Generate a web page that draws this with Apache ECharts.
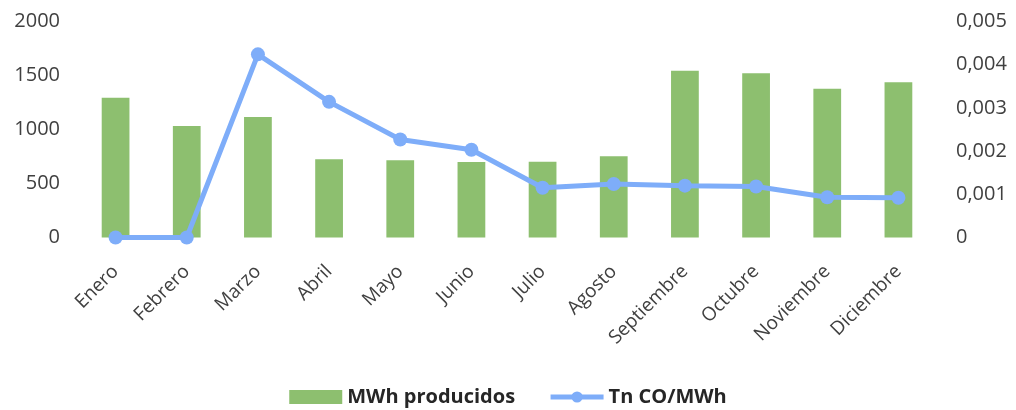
<!DOCTYPE html>
<html>
<head>
<meta charset="utf-8">
<script src="https://cdn.jsdelivr.net/npm/echarts@6/dist/echarts.min.js"></script>
<style>
  html, body { margin: 0; padding: 0; background: #ffffff; }
  #chart { width: 1016px; height: 410px; }
</style>
</head>
<body>
<div id="chart"></div>
<script>
// Monthly production and emission intensity
const months = ['Enero', 'Febrero', 'Marzo', 'Abril', 'Mayo', 'Junio', 'Julio', 'Agosto', 'Septiembre', 'Octubre', 'Noviembre', 'Diciembre'];
const mwhProducidos = [1295, 1032, 1116, 724, 715, 700, 702, 752, 1545, 1520, 1378, 1437];
const tnCoPorMwh = [0, 0, 0.00424, 0.00314, 0.00227, 0.00203, 0.00115, 0.00124, 0.00120, 0.00118, 0.00093, 0.00092];
const leftTicks = ['0', '500', '1000', '1500', '2000'];
const rightTicks = ['0', '0,001', '0,002', '0,003', '0,004', '0,005'];

const textColor = '#404040';
const fontFamily = '"Open Sans", "Noto Sans", sans-serif';
const lineColor = '#7EADF9';

const chart = echarts.init(document.getElementById('chart'), null, { renderer: 'canvas' });
chart.setOption({
  animation: false,
  textStyle: { fontFamily: fontFamily },
  grid: { left: 80, right: 82, top: 21.5, bottom: 172.5, containLabel: false },
  legend: {
    top: 382,
    left: 'center',
    itemGap: 33,
    itemWidth: 53,
    itemHeight: 14,
    textStyle: { color: '#262626', fontSize: 20, fontWeight: 'bold', fontFamily: fontFamily, padding: [0, 0, 0, 0] },
    data: [
      { name: 'MWh producidos', icon: 'rect' },
      { name: 'Tn CO/MWh', lineStyle: { width: 5, color: lineColor } }
    ]
  },
  xAxis: {
    type: 'category',
    data: months,
    axisLine: { show: false },
    axisTick: { show: false },
    axisLabel: { rotate: 45, interval: 0, fontSize: 19, color: textColor, margin: 31 }
  },
  yAxis: [
    {
      type: 'value',
      min: 0, max: 2000, interval: 500,
      splitLine: { show: false },
      axisLine: { show: false },
      axisTick: { show: false },
      axisLabel: {
        fontSize: 20, color: textColor, margin: 20,
        formatter: (v) => leftTicks[Math.round(v / 500)]
      }
    },
    {
      type: 'value',
      min: 0, max: 0.005, interval: 0.001,
      splitLine: { show: false },
      axisLine: { show: false },
      axisTick: { show: false },
      axisLabel: {
        fontSize: 20, color: textColor, margin: 22,
        formatter: (v) => rightTicks[Math.round(v / 0.001)]
      }
    }
  ],
  series: [
    {
      name: 'MWh producidos',
      type: 'bar',
      yAxisIndex: 0,
      data: mwhProducidos,
      barWidth: '39%',
      itemStyle: { color: '#8DBF6F' }
    },
    {
      name: 'Tn CO/MWh',
      type: 'line',
      yAxisIndex: 1,
      data: tnCoPorMwh,
      symbol: 'circle',
      symbolSize: 14,
      lineStyle: { color: lineColor, width: 5 },
      itemStyle: { color: lineColor }
    }
  ]
});
</script>
</body>
</html>
